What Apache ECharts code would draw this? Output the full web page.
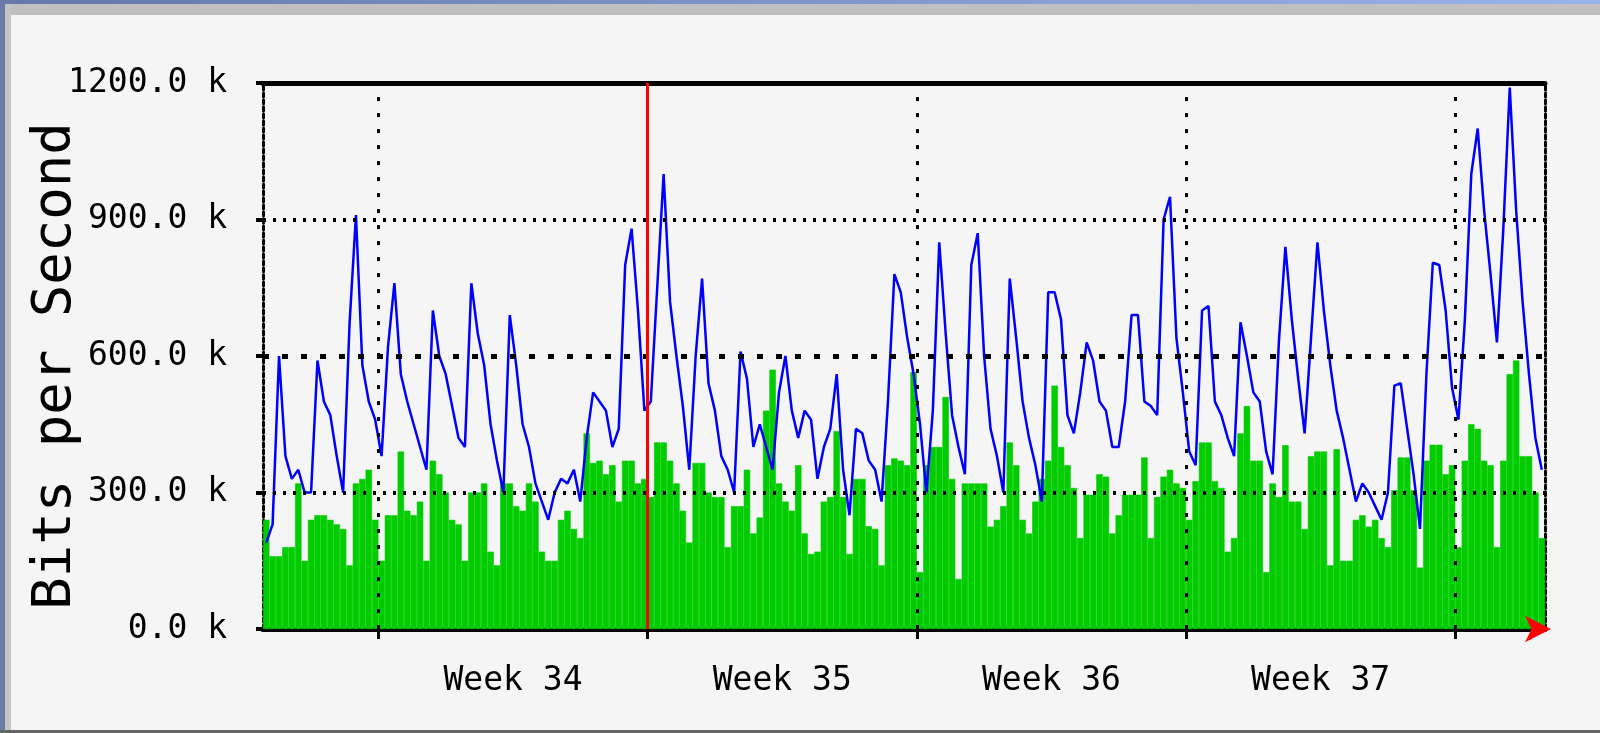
<!DOCTYPE html>
<html>
<head>
<meta charset="utf-8">
<style>
  html, body { margin: 0; padding: 0; background: #f5f5f5; }
  #chart { width: 1600px; height: 733px; }
</style>
<script src="https://cdn.jsdelivr.net/npm/echarts@6/dist/echarts.min.js"></script>
</head>
<body>
<div id="chart"></div>
<script>
// one slot = 4 hours, 200 slots across the graph
const slotCount = 200
const weekLabels = ['Week 34', 'Week 35', 'Week 36', 'Week 37']
const weekStartSlot = [18, 60, 102, 144, 186]
const monthStartSlot = 60
const yTicks = [0, 300, 600, 900, 1200]
const yTitle = 'Bits per Second'

// incoming traffic (green area), kbit/s
const bitsIn = [
  240, 160, 160, 180, 180, 320, 150, 240, 250, 250,
  240, 230, 220, 140, 320, 330, 350, 240, 150, 250,
  250, 390, 260, 250, 280, 150, 370, 340, 300, 240,
  230, 150, 300, 300, 320, 170, 140, 320, 320, 270,
  260, 320, 280, 170, 150, 150, 240, 260, 220, 200,
  430, 365, 370, 340, 360, 280, 370, 370, 320, 330,
  290, 410, 410, 370, 320, 260, 190, 365, 365, 300,
  290, 290, 180, 270, 270, 350, 210, 245, 480, 570,
  320, 280, 260, 360, 210, 165, 170, 280, 290, 435,
  290, 165, 330, 330, 226, 220, 140, 360, 375, 370,
  360, 565, 125, 360, 400, 400, 510, 330, 110, 320,
  320, 320, 320, 225, 240, 270, 410, 360, 240, 210,
  280, 330, 370, 535, 400, 360, 310, 200, 295, 295,
  340, 335, 210, 250, 295, 295, 295, 377, 200, 290,
  335, 350, 320, 310, 240, 325, 410, 410, 325, 310,
  170, 200, 430, 490, 370, 370, 125, 320, 290, 404,
  280, 280, 220, 380, 390, 390, 140, 395, 150, 150,
  240, 250, 225, 240, 200, 180, 305, 377, 377, 305,
  135, 370, 405, 405, 340, 360, 180, 370, 450, 440,
  370, 360, 180, 370, 560, 590, 380, 380, 300, 200
]

// outgoing traffic (blue line), kbit/s
const bitsOut = [
  190, 230, 600, 380, 330, 350, 300, 300, 590, 500,
  470, 380, 300, 670, 910, 580, 500, 460, 380, 620,
  760, 560, 500, 450, 400, 350, 700, 600, 560, 490,
  420, 400, 760, 650, 580, 450, 370, 300, 690, 580,
  450, 400, 320, 280, 240, 300, 330, 320, 350, 280,
  420, 520, 500, 480, 400, 440, 800, 880, 700, 480,
  500, 750, 1000, 720, 600, 490, 350, 600, 770, 540,
  480, 380, 350, 300, 610, 550, 400, 450, 400, 350,
  520, 600, 480, 420, 480, 460, 330, 400, 440, 560,
  350, 250, 440, 430, 370, 350, 280, 500, 780, 740,
  640, 560, 450, 300, 480, 850, 650, 470, 400, 340,
  800, 870, 600, 440, 380, 300, 770, 640, 500, 420,
  360, 280, 740, 740, 680, 470, 430, 520, 630, 590,
  500, 480, 400, 400, 500, 690, 690, 500, 490, 470,
  900, 950, 640, 520, 390, 360, 700, 710, 500, 470,
  420, 380, 674, 600, 520, 500, 390, 340, 635, 840,
  680, 550, 430, 640, 850, 700, 580, 480, 420, 350,
  280, 320, 300, 270, 240, 300, 535, 540, 440, 340,
  220, 560, 805, 800, 700, 530, 460, 680, 1000, 1100,
  920, 780, 630, 880, 1190, 920, 720, 560, 420, 350
]

const weekMid = weekLabels.map((w, i) => (weekStartSlot[i] + weekStartSlot[i + 1]) / 2)
const mono = '"DejaVu Sans Mono", "Liberation Mono", monospace'

const chart = echarts.init(document.getElementById('chart'), null, { renderer: 'canvas' })

chart.setOption({
  animation: false,
  backgroundColor: '#f5f5f5',
  graphic: [
    { type: 'rect', shape: { x: 0, y: 0, width: 1600, height: 4 }, style: { fill: new echarts.graphic.LinearGradient(0, 0, 1, 0, [{ offset: 0, color: '#6479a8' }, { offset: 1, color: '#97b4ec' }]) }, silent: true },
    { type: 'rect', shape: { x: 0, y: 4, width: 1600, height: 11 }, style: { fill: '#c0c0c0' }, silent: true },
    { type: 'rect', shape: { x: 0, y: 0, width: 5, height: 733 }, style: { fill: '#6b7ba5' }, silent: true },
    { type: 'rect', shape: { x: 5, y: 4, width: 6, height: 729 }, style: { fill: '#c4c4c4' }, silent: true },
    { type: 'rect', shape: { x: 0, y: 730, width: 1600, height: 3 }, style: { fill: '#646464' }, silent: true },
    // y axis title
    {
      type: 'text',
      x: 56,
      y: 366,
      rotation: Math.PI / 2,
      silent: true,
      style: {
        text: yTitle,
        fill: '#000',
        font: '54px ' + mono,
        align: 'center',
        verticalAlign: 'middle'
      }
    }
  ],
  grid: {
    left: 263,
    right: 55,
    top: 83,
    bottom: 104,
    containLabel: false,
    outerBoundsMode: 'none'
  },
  xAxis: [{
    type: 'value',
    min: 0,
    max: slotCount,
    position: 'bottom',
    axisLine: { show: true, onZero: false, lineStyle: { color: '#000', width: 5 } },
    axisTick: {
      show: true,
      customValues: weekStartSlot,
      length: 10,
      lineStyle: { color: '#000', width: 3 }
    },
    axisLabel: {
      show: true,
      customValues: weekMid,
      formatter: function (v) {
        const k = weekMid.indexOf(v)
        return k >= 0 ? weekLabels[k] : ''
      },
      margin: 36,
      color: '#000',
      fontFamily: mono,
      fontSize: 33
    },
    splitLine: { show: false }
  }, {
    type: 'value',
    min: 0,
    max: slotCount,
    position: 'top',
    axisLine: { show: true, onZero: false, lineStyle: { color: '#000', width: 5 } },
    axisTick: { show: false },
    axisLabel: { show: false },
    splitLine: { show: false }
  }],
  yAxis: [{
    type: 'value',
    min: 0,
    max: 1200,
    interval: 300,
    position: 'left',
    axisLine: { show: true, onZero: false, lineStyle: { color: '#000', width: 3, type: [4, 3] } },
    axisTick: { show: true, length: 7, lineStyle: { color: '#000', width: 4 } },
    axisLabel: {
      margin: 36,
      color: '#000',
      fontFamily: mono,
      fontSize: 33,
      formatter: v => v.toFixed(1) + ' k'
    },
    splitLine: { show: false }
  }, {
    type: 'value',
    min: 0,
    max: 1200,
    interval: 300,
    position: 'right',
    axisLine: { show: true, onZero: false, lineStyle: { color: '#000', width: 3, type: [4, 3] } },
    axisTick: { show: false },
    axisLabel: { show: false },
    splitLine: { show: false }
  }],
  series: [{
    name: 'In',
    type: 'bar',
    xAxisIndex: 0,
    yAxisIndex: 0,
    barWidth: '100%',
    z: 2,
    itemStyle: { color: '#00cc00', borderColor: '#00cc00', borderWidth: 0.6 },
    data: bitsIn.map((v, i) => [i + 0.5, v]),
    markLine: {
      silent: true,
      symbol: ['none', 'none'],
      label: { show: false },
      data: [
        ...yTicks.filter(t => t > 0 && t < 1200).map(t => ({
          yAxis: t,
          lineStyle: t === 600
            ? { color: '#000', width: 5, type: [6, 13] }
            : { color: '#000', width: 4, type: [3, 7] }
        })),
        ...weekStartSlot.map(s => ({
          xAxis: s,
          lineStyle: s === monthStartSlot
            ? { color: '#ff0000', width: 3, type: 'solid' }
            : { color: '#000', width: 3, type: [4, 12] }
        }))
      ]
    },
    markPoint: {
      silent: true,
      symbol: 'arrow',
      symbolSize: [20, 26],
      symbolRotate: -90,
      symbolOffset: [6, 0],
      itemStyle: { color: '#ff0000' },
      label: { show: false },
      data: [{ coord: [slotCount, 0] }]
    }
  }, {
    name: 'Out',
    type: 'line',
    xAxisIndex: 0,
    yAxisIndex: 0,
    z: 3,
    showSymbol: false,
    symbol: 'none',
    lineStyle: { color: '#0000ff', width: 2.5 },
    data: bitsOut.map((v, i) => [i + 0.5, v])
  }]
})
</script>
</body>
</html>
